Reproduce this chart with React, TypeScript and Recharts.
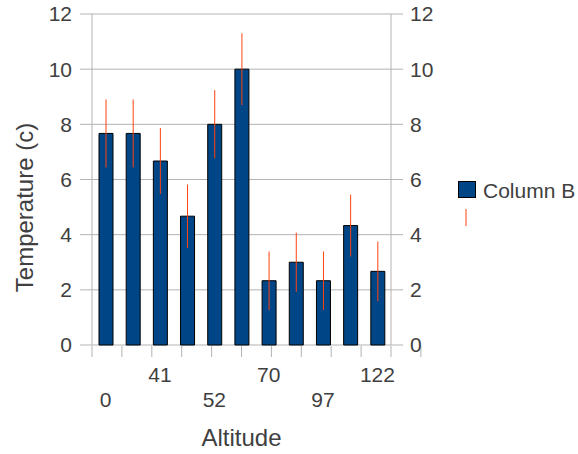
import { BarChart, Bar, XAxis, YAxis, CartesianGrid, ErrorBar, Legend, Label } from 'recharts'

document.body.style.margin = '0'

// altitude categories (every other one is printed on the axis)
const altitudes = ['0', '20', '41', '46', '52', '61', '70', '80', '97', '110', '122']
const temps = [7.67, 7.67, 6.67, 4.67, 8, 10, 2.33, 3, 2.33, 4.33, 2.67]
const errs = [1.23, 1.23, 1.2, 1.15, 1.24, 1.3, 1.06, 1.07, 1.06, 1.12, 1.08]
const yTicks = [0, 2, 4, 6, 8, 10, 12]
// category boundaries, used only for the little tick marks under the x axis
const edgeTicks = [...altitudes.map((_, i) => i), altitudes.length]

const data = altitudes.map((alt, i) => ({ alt, temp: temps[i], err: errs[i] }))

const FONT = '"Liberation Sans", Arial, sans-serif'
const TEXT = '#404040'
const GRID = '#b3b3b3'
const BLUE = '#004586'
const ORANGE = '#ff420e'

function AltTick(props: any) {
  const { x, y, payload, index } = props
  if (index % 2 === 1) return <g />
  const dy = index % 4 === 0 ? 62 : 37
  return (
    <text x={x} y={y + dy} textAnchor="middle" fill={TEXT} fontSize={21} fontFamily={FONT}>
      {payload.value}
    </text>
  )
}

function YTitle(props: any) {
  const { viewBox } = props
  const cx = viewBox.x + 24
  const cy = viewBox.y + viewBox.height / 2 + 28
  return (
    <text
      x={cx}
      y={cy}
      transform={`rotate(-90, ${cx}, ${cy})`}
      textAnchor="middle"
      dominantBaseline="central"
      fill={TEXT}
      fontSize={24}
      fontFamily={FONT}
    >
      Temperature (c)
    </text>
  )
}

function LegendBox() {
  return (
    <svg width={120} height={50} style={{ display: 'block' }}>
      <rect x={0.5} y={1.5} width={17} height={16} fill={BLUE} stroke="#000" />
      <line x1={8} x2={8} y1={29} y2={46} stroke={ORANGE} strokeWidth={1} />
      <text x={25} y={18} fill={TEXT} fontSize={21} fontFamily={FONT}>
        Column B
      </text>
    </svg>
  )
}

export default function App() {
  return (
    <BarChart
      width={578}
      height={454}
      data={data}
      margin={{ top: 14, right: 0, bottom: 107, left: 0 }}
      barCategoryGap={0}
    >
      <CartesianGrid vertical={false} stroke={GRID} yAxisId="left" />
      <XAxis
        dataKey="alt"
        height={1}
        interval={0}
        tickLine={false}
        axisLine={false}
        tickSize={0}
        tickMargin={0}
        tick={<AltTick />}
      >
        <Label
          value="Altitude"
          position="bottom"
          offset={83}
          fill={TEXT}
          fontSize={24}
          fontFamily={FONT}
        />
      </XAxis>
      <XAxis
        xAxisId="edges"
        type="number"
        domain={[0, altitudes.length]}
        ticks={edgeTicks}
        interval={0}
        allowDataOverflow
        height={1}
        tick={() => <g />}
        tickSize={11}
        tickLine={{ stroke: GRID }}
        axisLine={false}
      />
      <YAxis
        yAxisId="left"
        width={92}
        domain={[0, 12]}
        ticks={yTicks}
        interval={0}
        tickSize={12}
        tickMargin={8}
        axisLine={{ stroke: GRID }}
        tickLine={{ stroke: GRID }}
        tick={{ fill: TEXT, fontSize: 21, fontFamily: FONT }}
      >
        <Label content={<YTitle />} />
      </YAxis>
      <YAxis
        yAxisId="right"
        orientation="right"
        width={187}
        domain={[0, 12]}
        ticks={yTicks}
        interval={0}
        allowDataOverflow
        tickSize={12}
        tickMargin={7}
        axisLine={{ stroke: GRID }}
        tickLine={{ stroke: GRID }}
        tick={{ fill: TEXT, fontSize: 21, fontFamily: FONT, textAnchor: 'start' }}
      />
      <Bar
        dataKey="temp"
        name="Column B"
        yAxisId="left"
        barSize={14}
        fill={BLUE}
        stroke="#000"
        strokeWidth={1}
        isAnimationActive={false}
      >
        <ErrorBar dataKey="err" width={0} stroke={ORANGE} strokeWidth={1} direction="y" isAnimationActive={false} />
      </Bar>
      <Legend
        layout="horizontal"
        verticalAlign="middle"
        align="center"
        wrapperStyle={{ left: 458, top: 180, width: 120, height: 50 }}
        content={() => <LegendBox />}
      />
    </BarChart>
  )
}
